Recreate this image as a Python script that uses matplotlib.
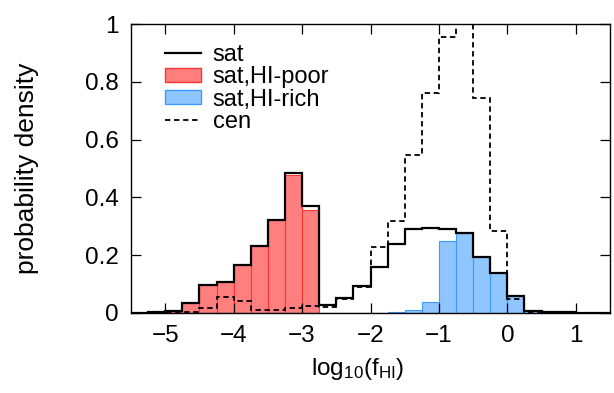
import numpy as np
import matplotlib
matplotlib.use("Agg")
import matplotlib.pyplot as plt
from matplotlib.lines import Line2D
from matplotlib.patches import Patch
from matplotlib.ticker import FuncFormatter

plt.rcParams['font.family'] = ['Liberation Sans', 'DejaVu Sans']
plt.rcParams['mathtext.fontset'] = 'custom'
plt.rcParams['mathtext.rm'] = 'Liberation Sans'
plt.rcParams['mathtext.it'] = 'Liberation Sans'

# histogram bins in log10(f_HI), width 0.25
edges = np.linspace(-5.5, 1.5, 29)

sat = [0.001, 0.003, 0.007, 0.036, 0.096, 0.107, 0.166, 0.232, 0.322, 0.483,
       0.371, 0.028, 0.053, 0.093, 0.158, 0.240, 0.290, 0.295, 0.291, 0.276,
       0.193, 0.137, 0.060, 0.008, 0.004, 0.002, 0.001, 0.001]
sat_poor = [0.001, 0.003, 0.007, 0.036, 0.096, 0.107, 0.166, 0.232, 0.322, 0.477,
            0.356, 0, 0, 0, 0, 0, 0, 0, 0, 0,
            0, 0, 0, 0, 0, 0, 0, 0]
sat_rich = [0, 0, 0, 0, 0, 0, 0, 0, 0, 0,
            0, 0, 0, 0, 0.001, 0.002, 0.010, 0.039, 0.249, 0.276,
            0.193, 0.137, 0.060, 0.008, 0.004, 0.001, 0, 0]
cen = [0, 0.001, 0.003, 0.004, 0.017, 0.055, 0.043, 0.012, 0.012, 0.017,
       0.025, 0.022, 0.05, 0.09, 0.229, 0.318, 0.547, 0.760, 0.956, 1.0,
       0.743, 0.285, 0.047, 0.004, 0.001, 0, 0, 0]

red_fill, red_edge = '#ff7f7f', '#ff3333'
blue_fill, blue_edge = '#8fc6ff', '#3d9bff'
fs = 17.5

fig = plt.figure(figsize=(6.14, 3.93), dpi=100)
ax = fig.add_axes([0.2134, 0.2036, 0.7801, 0.7353])

centers = (edges[:-1] + edges[1:]) / 2
ax.bar(centers, sat_poor, width=0.25, color=red_fill, edgecolor=red_edge, linewidth=0.8)
ax.bar(centers, sat_rich, width=0.25, color=blue_fill, edgecolor=blue_edge, linewidth=0.8)
ax.stairs(sat, edges, color='black', linewidth=1.6)
ax.stairs(cen, edges, color='black', linewidth=1.3, linestyle=(0, (3, 2)))

ax.set_xlim(-5.5, 1.5)
ax.set_ylim(0, 1)
ax.set_xticks([-5, -4, -3, -2, -1, 0, 1])
ax.set_yticks([0, 0.2, 0.4, 0.6, 0.8, 1])
ax.yaxis.set_major_formatter(FuncFormatter(lambda v, p: '%g' % v))
ax.tick_params(direction='in', length=7, width=0.9, top=True, right=True,
               labelsize=fs)
ax.tick_params(axis='x', pad=9)
ax.tick_params(axis='y', pad=9)
for s in ax.spines.values():
    s.set_linewidth(1.0)

ax.set_ylabel('probability density', fontsize=19)
ax.yaxis.set_label_coords(-0.192, 0.5)
ax.set_xlabel(r'log$_{10}$(f$_{\rm HI}$)', fontsize=fs)
ax.xaxis.set_label_coords(0.474, -0.148)

handles = [Line2D([], [], color='black', linewidth=1.6),
           Patch(facecolor=red_fill, edgecolor=red_edge),
           Patch(facecolor=blue_fill, edgecolor=blue_edge),
           Line2D([], [], color='black', linewidth=1.3, linestyle=(0, (3, 2)))]
ax.legend(handles, ['sat', 'sat,HI-poor', 'sat,HI-rich', 'cen'],
          loc='upper left', bbox_to_anchor=(0.052, 0.965), frameon=False,
          fontsize=17, handlelength=1.5, handleheight=0.55,
          handletextpad=0.5, labelspacing=0.02, borderaxespad=0)

fig.savefig('out.png', dpi=100)
